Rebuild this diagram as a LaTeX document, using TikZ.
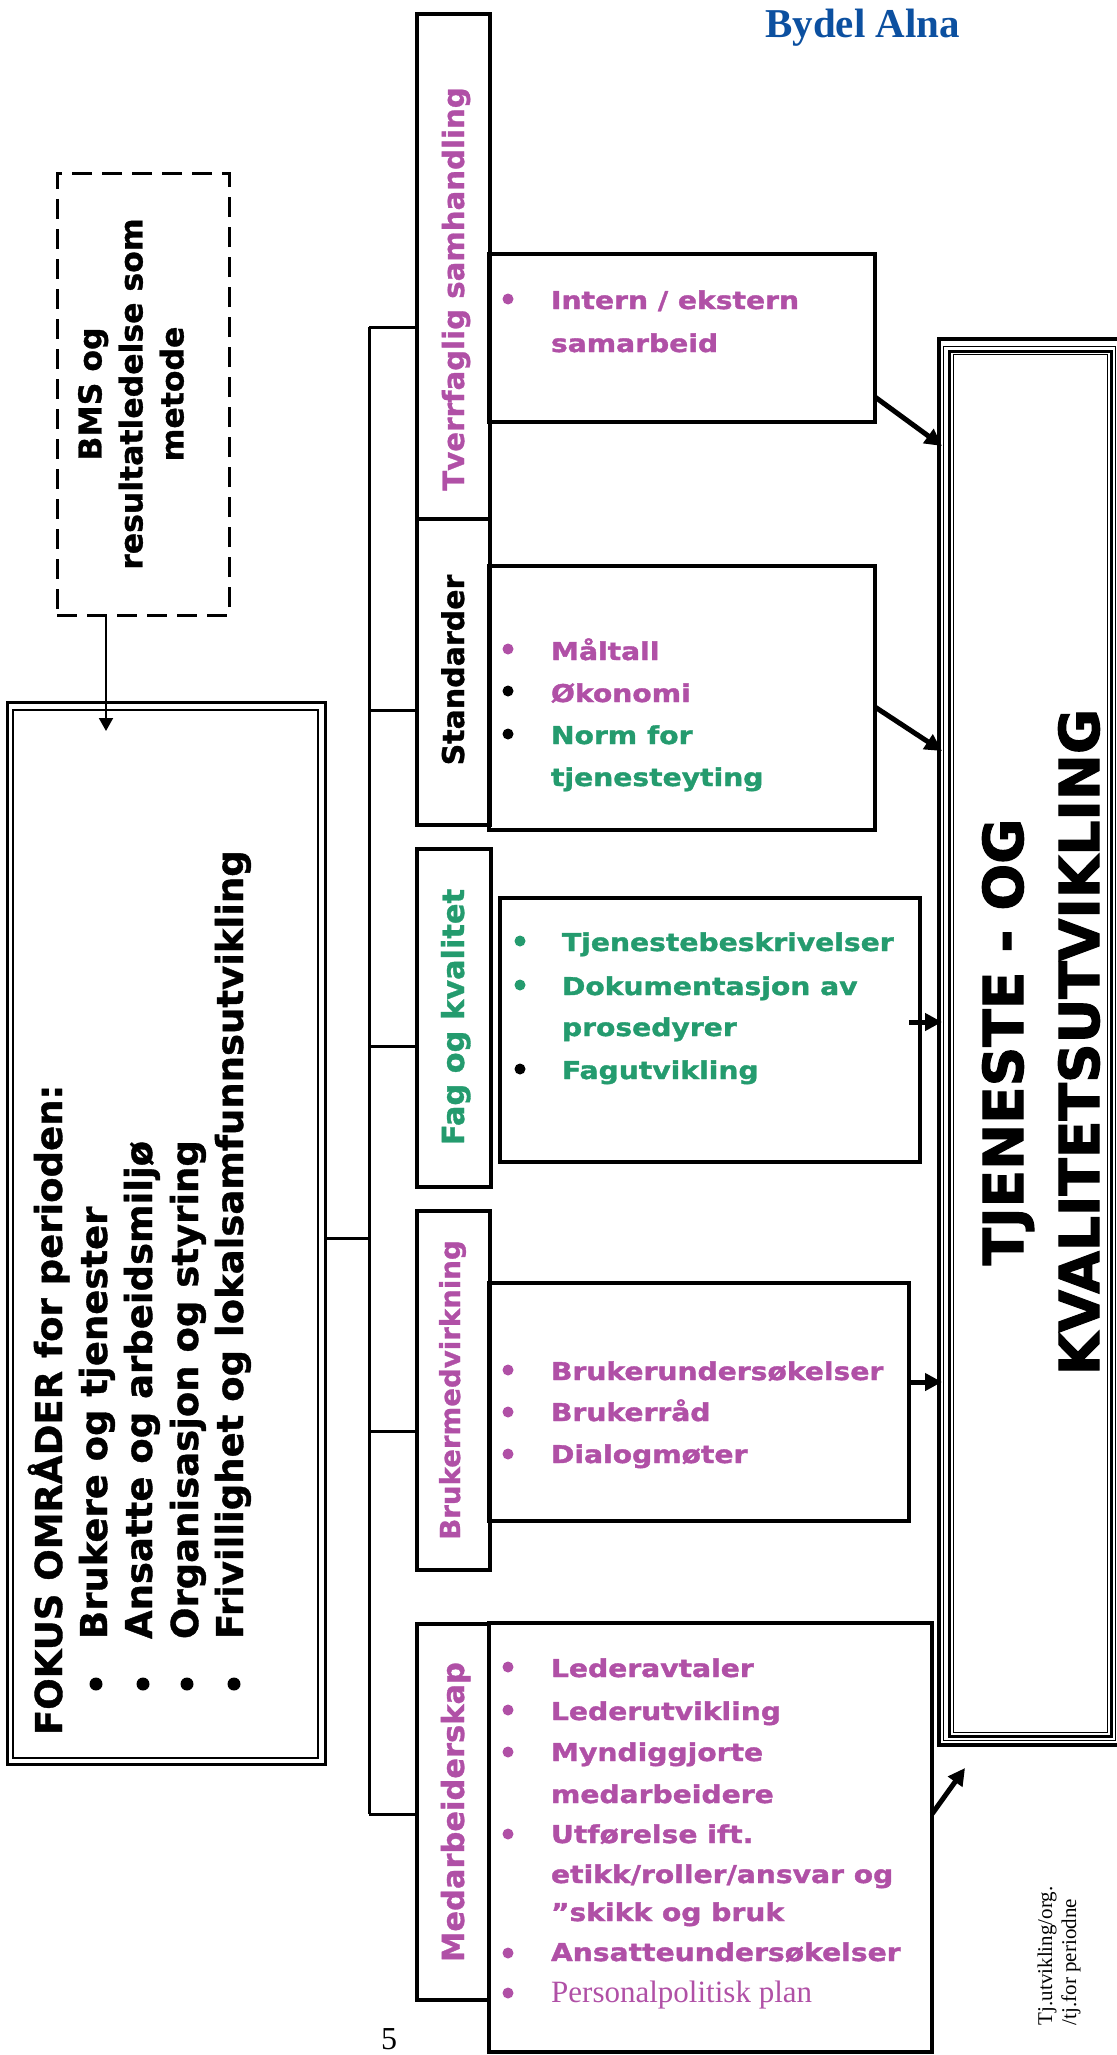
\documentclass[tikz,border=0pt]{standalone}
\usepackage{fontspec}
\setmainfont{Liberation Serif}
\newfontfamily\dv{DejaVu Sans}[FakeBold=1]
\newfontfamily\dvh{DejaVu Sans}[FakeBold=2]
\newfontfamily\dvw{DejaVu Sans}[FakeStretch=1.15,FakeBold=1.5]
\usetikzlibrary{arrows.meta,calc}
\definecolor{pur}{RGB}{176,80,166}
\definecolor{grn}{RGB}{36,155,110}
\definecolor{blu}{RGB}{12,80,160}
\tikzset{
  box/.style={draw, line width=3.5pt, rectangle, inner sep=0pt, outer sep=0pt},
  ln/.style={line width=3pt},
  arr/.style={line width=5pt, -{Triangle[length=17pt,width=17pt]}},
  rot/.style={rotate=90, inner sep=0pt, outer sep=0pt},
  lbltxt/.style={rot, anchor=base},
  fok/.style={rot, anchor=base west, font=\dv\bfseries\fontsize{37}{40}\selectfont},
  item/.style={anchor=base west, inner sep=0pt, outer sep=0pt, font=\dvw\bfseries\fontsize{24.5}{30}\selectfont},
  bul/.style={circle, inner sep=0pt, minimum size=11pt}
}
\begin{document}
\begin{tikzpicture}[x=1pt,y=-1pt]
\useasboundingbox (0,0) rectangle (1116,2055);

% title
\node[anchor=base west, inner sep=0pt, text=blu, font=\bfseries\fontsize{41}{45}\selectfont] (title) at (765,38) {Bydel Alna};

% dashed box
\node[draw, line width=3pt, dash pattern=on 20pt off 10pt, minimum width=172pt, minimum height=441pt, inner sep=0pt, outer sep=0pt] (dsh) at (143,394.5) {};
\node[rot, anchor=center, align=center, font=\dv\bfseries\fontsize{31.5}{41}\selectfont] (dshT) at (131,394) {BMS og\\resultatledelse som\\metode};

% fokus box
\node[draw, line width=3pt, minimum width=318pt, minimum height=1062pt, inner sep=0pt, outer sep=0pt] (fokus) at (166,1233) {};
\draw[line width=1.5pt] ([shift={(6,8)}]fokus.north west) rectangle ([shift={(-7,-6)}]fokus.south east);
\node[fok] (f0) at (62,1735) {FOKUS OMRÅDER for perioden:};
\node[fok] (f1) at (107,1639) {Brukere og tjenester};
\node[fok] (f2) at (152,1639) {Ansatte og arbeidsmiljø};
\node[fok] (f3) at (198,1639) {Organisasjon og styring};
\node[fok] (f4) at (243,1639) {Frivillighet og lokalsamfunnsutvikling};
\foreach \x in {96,143,187,234} \fill (\x,1684) circle[radius=6.5pt];

\coordinate (fokin) at (106,731);
\draw[line width=2pt, -{Triangle[length=13pt,width=14pt]}] (dsh.south -| fokin) -- (fokin);

% label boxes
\node[box, minimum width=73pt, minimum height=505pt] (tverr) at (453.5,266.5) {};
\node[box, minimum width=73pt, minimum height=306pt] (std) at (453.5,672) {};
\node[box, minimum width=74pt, minimum height=338pt] (fag) at (454,1018) {};
\node[box, minimum width=73pt, minimum height=359pt] (bruk) at (453.5,1390.5) {};
\node[box, minimum width=72pt, minimum height=376pt] (med) at (453,1812) {};

\node[lbltxt, text=pur, font=\dv\bfseries\fontsize{29.2}{32}\selectfont] (tverrT) at (464,289) {Tverrfaglig samhandling};
\node[lbltxt, text=black, font=\dv\bfseries\fontsize{30}{32}\selectfont] (stdT) at (464,670) {Standarder};
\node[lbltxt, text=grn, font=\dv\bfseries\fontsize{30.4}{32}\selectfont] (fagT) at (464,1017) {Fag og kvalitet};
\node[lbltxt, text=pur, font=\dv\bfseries\fontsize{27.6}{32}\selectfont] (brukT) at (460,1390) {Brukermedvirkning};
\node[lbltxt, text=pur, font=\dv\bfseries\fontsize{30.5}{32}\selectfont] (medT) at (464,1812) {Medarbeiderskap};

% bus
\coordinate (b1) at (369,327);
\coordinate (b2) at (369,710);
\coordinate (b3) at (369,1046);
\coordinate (b4) at (369,1431);
\coordinate (b5) at (369,1814);
\coordinate (b0) at (369,1238);
\draw[ln] (b1) -- (b5);
\draw[ln] (b1) -- (tverr.west |- b1);
\draw[ln] (b2) -- (std.west |- b2);
\draw[ln] (b3) -- (fag.west |- b3);
\draw[ln] (b4) -- (bruk.west |- b4);
\draw[ln] (b5) -- (med.west |- b5);
\draw[ln] (fokus.east |- b0) -- (b0);

% content boxes
\node[box, minimum width=386pt, minimum height=168pt] (intc) at (682,338) {};
\node[box, minimum width=386pt, minimum height=264pt] (stdc) at (682,698) {};
\node[box, minimum width=420pt, minimum height=264pt] (fagc) at (710,1030) {};
\node[box, minimum width=420pt, minimum height=238pt] (brukc) at (699,1402) {};
\node[box, minimum width=443pt, minimum height=429pt] (medc) at (710.5,1837.5) {};

% intern
\node[bul, fill=pur] at (508,299) {};
\node[item, text=pur] (i1) at (551,309) {Intern / ekstern};
\node[item, text=pur] (i2) at (551,352) {samarbeid};

% standarder
\node[bul, fill=pur] at (508,649) {};
\node[bul, fill=black] at (508,691) {};
\node[bul, fill=black] at (508,734) {};
\node[item, text=pur] (s1) at (551,660) {Måltall};
\node[item, text=pur] (s2) at (551,702) {Økonomi};
\node[item, text=grn] (s3) at (551,744) {Norm for};
\node[item, text=grn] (s4) at (551,786) {tjenesteyting};

% fag
\node[bul, fill=grn] at (520,941) {};
\node[bul, fill=grn] at (520,985) {};
\node[bul, fill=black] at (520,1069) {};
\node[item, text=grn] (g1) at (562,951) {Tjenestebeskrivelser};
\node[item, text=grn] (g2) at (562,995) {Dokumentasjon av};
\node[item, text=grn] (g3) at (562,1036) {prosedyrer};
\node[item, text=grn] (g4) at (562,1079) {Fagutvikling};

% brukermedvirkning
\node[bul, fill=pur] at (508,1370) {};
\node[bul, fill=pur] at (508,1412) {};
\node[bul, fill=pur] at (508,1454) {};
\node[item, text=pur] (u1) at (551,1380) {Brukerundersøkelser};
\node[item, text=pur] (u2) at (551,1421) {Brukerråd};
\node[item, text=pur] (u3) at (551,1463) {Dialogmøter};

% medarbeiderskap
\foreach \y in {1667,1710,1752,1834,1953,1993} \node[bul, fill=pur] at (508,\y) {};
\node[item, text=pur] (m1) at (551,1677) {Lederavtaler};
\node[item, text=pur] (m2) at (551,1720) {Lederutvikling};
\node[item, text=pur] (m3) at (551,1761) {Myndiggjorte};
\node[item, text=pur] (m4) at (551,1803) {medarbeidere};
\node[item, text=pur] (m5) at (551,1843) {Utførelse ift.};
\node[item, text=pur] (m6) at (551,1883) {etikk/roller/ansvar og};
\node[item, text=pur] (m7) at (551,1921) {”skikk og bruk};
\node[item, text=pur] (m8) at (551,1961) {Ansatteundersøkelser};
\node[anchor=base west, inner sep=0pt, text=pur, font=\fontsize{31}{34}\selectfont] (m9) at (551,2002) {Personalpolitisk plan};

% big box
\node[draw, line width=4pt, minimum width=180pt, minimum height=1406pt, inner sep=0pt, outer sep=0pt] (tq) at (1029,1042) {};
\draw[line width=1pt] ([shift={(4,7)}]tq.north west) rectangle ([shift={(-4,-5)}]tq.south east);
\draw[line width=3pt] ([shift={(10.5,12)}]tq.north west) rectangle ([shift={(-8,-9)}]tq.south east);
\draw[line width=1pt] ([shift={(14.5,15)}]tq.north west) rectangle ([shift={(-12,-13)}]tq.south east);
\node[lbltxt, font=\dvh\bfseries\fontsize{55}{60}\selectfont] (tq1) at (1023,1042) {TJENESTE - OG};
\node[lbltxt, font=\dvh\bfseries\fontsize{55}{60}\selectfont] (tq2) at (1099,1042) {KVALITETSUTVIKLING};

% arrows
\coordinate (e5) at (965,1768);
\draw[arr] (intc.east |- 0,397) -- ([xshift=3pt]tq.west |- 0,446);
\draw[arr] (stdc.east |- 0,707) -- ([xshift=3pt]tq.west |- 0,751);
\draw[arr] ([xshift=-11pt]fagc.east |- 0,1022) -- ([xshift=3pt]tq.west |- 0,1022);
\draw[arr] (brukc.east |- 0,1382) -- ([xshift=3pt]tq.west |- 0,1382);
\draw[arr] (medc.east |- 0,1814) -- (e5);

% footer notes
\node[anchor=base, inner sep=0pt, font=\fontsize{32}{34}\selectfont] (pg) at (389,2049) {5};
\node[rot, anchor=base west, font=\fontsize{21}{23}\selectfont] (n1) at (1052,2025) {Tj.utvikling/org.};
\node[rot, anchor=base west, font=\fontsize{21}{23}\selectfont] (n2) at (1076,2025) {/tj.for periodne};
\end{tikzpicture}
\end{document}
